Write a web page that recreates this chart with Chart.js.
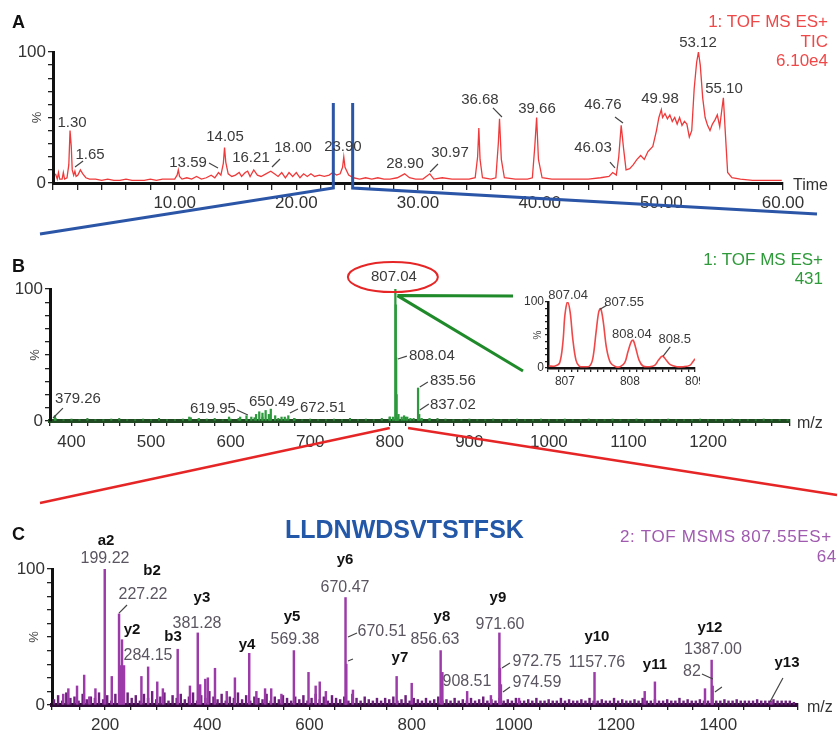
<!DOCTYPE html>
<html>
<head>
<meta charset="utf-8">
<script src="https://cdn.jsdelivr.net/npm/chart.js@4.4.0/dist/chart.umd.min.js"></script>
<style>
  body { margin: 0; background: #fff; width: 838px; height: 735px; position: relative; overflow: hidden;
         font-family: "Liberation Sans", Arial, Helvetica, sans-serif; }
  canvas { position: absolute; }
  .txt { position: absolute; white-space: nowrap; line-height: 1; }
  .panel { font-weight: bold; font-size: 18px; color: #111; left: 12px; }
</style>
</head>
<body>
<canvas id="chartA" width="838" height="240" style="left:0;top:0"></canvas>
<canvas id="chartB" width="838" height="270" style="left:0;top:240px"></canvas>
<div style="position:absolute;left:500px;top:280px;width:200px;height:110px;overflow:hidden">
  <canvas id="chartInset" width="240" height="110" style="left:0;top:0"></canvas>
</div>
<canvas id="chartC" width="838" height="265" style="left:0;top:470px"></canvas>

<div class="txt panel" style="top:13px">A</div>
<div class="txt panel" style="top:257px">B</div>
<div class="txt panel" style="top:525px">C</div>

<div class="txt" style="right:10px;top:12px;font-size:17px;color:#f04848;text-align:right;line-height:19.5px">1: TOF MS ES+<br>TIC<br>6.10e4</div>
<div class="txt" style="right:15px;top:250px;font-size:17px;color:#2f9a3a;text-align:right;line-height:19px">1: TOF MS ES+<br>431</div>
<div class="txt" style="right:6px;top:528px;font-size:17px;letter-spacing:0.7px;color:#a05ab0">2: TOF MSMS 807.55ES+</div>
<div class="txt" style="right:1px;top:548px;font-size:17px;letter-spacing:0.7px;color:#a05ab0">64</div>
<div class="txt" style="left:285px;top:517px;font-size:25px;font-weight:bold;color:#2358a8">LLDNWDSVTSTFSK</div>

<script>
"use strict";

// Panel A: total ion chromatogram (time in min, % intensity)
const ticTime = [0.2, 0.35, 0.45, 0.55, 0.75, 0.85, 0.95, 1.15, 1.3, 1.4, 1.5, 1.58, 1.7, 1.8, 1.9, 2.05, 2.25, 2.45, 2.7, 3.0,
  3.5, 4.0, 4.5, 5.0, 5.5, 6.0, 6.5, 7.0, 7.5, 8.0, 8.5, 9.0, 9.5, 10.0, 10.2, 10.3, 10.4, 10.6, 11.0, 11.4,
  11.8, 12.2, 12.6, 13.0, 13.3, 13.6, 13.8, 14.0, 14.1, 14.2, 14.4, 14.7, 15.0, 15.3, 15.5, 15.8, 16.0, 16.2, 16.5, 16.8,
  17.1, 17.5, 17.9, 18.2, 18.5, 18.8, 19.1, 19.4, 19.7, 20.0, 20.3, 20.6, 20.9, 21.2, 21.5, 21.9, 22.3, 22.7, 23.0, 23.3,
  23.6, 23.8, 23.9, 24.0, 24.3, 24.7, 25.2, 25.7, 26.2, 26.7, 27.2, 27.7, 28.3, 28.9, 29.3, 29.8, 30.4, 30.97, 31.3, 32.0,
  32.8, 33.5, 34.2, 34.7, 34.9, 35.0, 35.1, 35.3, 36.0, 36.4, 36.6, 36.7, 36.85, 37.1, 38.0, 39.0, 39.4, 39.6, 39.75, 39.9,
  40.2, 41.0, 42.0, 43.0, 44.0, 45.0, 45.7, 46.0, 46.3, 46.5, 46.7, 46.9, 47.1, 47.4, 47.7, 48.0, 48.3, 48.6, 48.9, 49.3,
  49.6, 49.8, 50.0, 50.1, 50.3, 50.5, 50.7, 50.9, 51.1, 51.3, 51.5, 51.7, 51.9, 52.1, 52.3, 52.5, 52.7, 52.9, 53.05, 53.2,
  53.4, 53.6, 53.8, 54.0, 54.2, 54.4, 54.6, 54.8, 55.0, 55.1, 55.25, 55.45, 55.8, 56.5, 57.5, 58.5, 59.5, 59.9];
const ticPct = [7, 3, 8, 3, 3, 8, 3, 4, 14, 40, 28, 10, 6, 9, 5, 6, 10, 7, 4, 3,
  3, 2, 3, 2, 2, 3, 2, 2, 2, 3, 2, 3, 3, 3, 6, 10, 5, 3, 4, 3,
  5, 3, 4, 6, 4, 8, 6, 15, 27, 16, 7, 5, 6, 8, 5, 8, 9, 5, 10, 6,
  5, 7, 9, 7, 5, 8, 4, 8, 5, 8, 4, 7, 5, 7, 5, 6, 5, 6, 8, 6,
  7, 12, 20, 12, 6, 4, 3, 4, 3, 4, 3, 3, 4, 7, 4, 3, 3, 7, 3, 4,
  3, 3, 3, 4, 20, 42, 18, 4, 3, 4, 30, 49, 18, 4, 3, 3, 4, 28, 50, 18,
  4, 3, 3, 3, 3, 4, 5, 8, 6, 20, 44, 26, 10, 11, 14, 18, 21, 18, 24, 28,
  40, 50, 56, 50, 53, 49, 52, 47, 50, 45, 50, 44, 47, 45, 35, 40, 72, 92, 100, 90,
  65, 50, 44, 40, 45, 48, 52, 43, 58, 65, 40, 8, 4, 3, 2, 2, 2, 2];
const zoomWindow = [23.04, 24.63];

const ticLabels = [["1.30", 1.56, 45.8], ["1.65", 3.04, 21.4], ["13.59", 11.1, 15.3], ["14.05", 14.14, 35.1],
  ["16.21", 16.27, 19.1], ["18.00", 19.73, 26.7], ["23.90", 23.83, 27.5], ["28.90", 28.93, 14.5],
  ["30.97", 32.63, 22.9], ["36.68", 35.09, 63.4], ["39.66", 39.78, 56.5], ["46.03", 44.38, 26.7],
  ["46.76", 45.2, 59.5], ["49.98", 49.89, 64.1], ["53.12", 53.01, 106.9], ["55.10", 55.15, 71.8]];
const ticLeaders = [[1.81, 12.2, 2.47, 16.8], [12.82, 15.3, 13.56, 11.5], [18.0, 12.2, 18.66, 18.3],
  [30.99, 8.4, 31.64, 14.5], [36.16, 57.3, 36.9, 50.4], [45.78, 16.0, 46.19, 11.5], [46.19, 50.4, 46.85, 45.8]];

// Panel B: MS survey scan
const msMz = [379.26, 548, 560, 598, 612, 619.95, 626, 632, 636, 640, 644, 648, 650.49, 656, 664, 668, 672.51, 680,
  800, 804, 807.04, 807.55, 808.04, 808.55, 811, 815, 818, 822, 826, 835.56, 837.02, 840, 850];
const msPct = [4, 3, 2, 3, 3, 4, 3, 5, 7, 6, 8, 5, 9, 4, 3, 3, 4, 2,
  3, 3, 100, 88, 48, 20, 5, 3, 4, 3, 2, 25, 5, 2, 2];
const msNoiseFrom = 380, msNoiseStep = 10;
const msNoisePct = [2, 1, 1.5, 1, 2, 1, 1, 1.5, 2, 1,
  1, 1.5, 1, 2, 1, 1, 1.5, 2.5, 1, 1.5,
  2, 1, 1.5, 2, 1, 2.5, 3, 2, 2, 1.5,
  2, 1, 1.5, 1, 1, 1.5, 1, 2, 1, 1.5,
  1, 2, 3, 2.5, 3, 2, 1.5, 1, 2, 1.5,
  1, 1, 1.5, 1, 1, 1.5, 1, 1, 1.5, 1,
  1, 1.5, 1, 1, 1.5, 1, 1, 1.5, 1, 1,
  1.5, 1, 1, 1.5, 1, 1, 1, 1.5, 1, 1,
  1, 1.5, 1, 1, 1, 1.5, 1, 1, 1, 1.5,
  1, 1, 1];
const msLabels = [["379.26", 408.2, 16.7], ["619.95", 577.8, 9.1], ["650.49", 651.9, 14.4], ["672.51", 716.0, 9.8],
  ["807.04", 805.2, 109], ["808.04", 852.9, 49.2], ["835.56", 879.3, 30.3], ["837.02", 879.3, 12.1]];
const msLeaders = [[376.8, 2.3, 389.3, 9.8], [607.9, 8.3, 621.7, 4.5], [674.5, 6.1, 684.6, 9.1],
  [810.2, 47.0, 821.5, 49.2], [837.8, 25.8, 847.9, 29.5], [837.8, 8.3, 849.1, 12.9]];

// Inset: isotope envelope of 807.04
const isoMz = [806.75, 806.85, 806.92, 806.97, 807.0, 807.04, 807.08, 807.12, 807.17, 807.22, 807.3, 807.38, 807.43,
  807.48, 807.52, 807.55, 807.59, 807.64, 807.7, 807.78, 807.85, 807.92, 807.97, 808.02, 808.05, 808.09, 808.14,
  808.2, 808.3, 808.38, 808.44, 808.5, 808.55, 808.62, 808.72, 808.82, 808.92, 808.97, 809.0];
const isoPct = [3, 3, 8, 40, 80, 100, 85, 45, 12, 3, 2, 3, 15,
  55, 85, 90, 70, 30, 8, 2, 2, 8, 25, 40, 42, 30, 12,
  3, 2, 4, 12, 18, 13, 5, 2, 2, 4, 10, 14];
const isoLabels = [["807.04", 807.05, 110], ["807.55", 807.91, 100], ["808.04", 808.03, 51.5], ["808.5", 808.69, 44]];
const isoLeaders = [[807.54, 89, 807.65, 95.5], [808.51, 18, 808.62, 32]];

// Panel C: MS/MS fragment spectrum of 807.55
const msmsMz = [118, 128, 145, 159, 169, 181, 199.22, 213, 227.22, 230, 233, 237, 271, 284.15, 302, 313, 342, 366,
  381.28, 386, 396, 401, 415, 438, 454, 482, 496, 513, 525, 545, 569.38, 598, 612, 620, 632, 670.47, 672, 685,
  770.5, 800, 856.63, 860, 908.51, 955, 971.6, 972.75, 974.59, 1010, 1157.76, 1256, 1276, 1374, 1387, 1389, 1504];
const msmsPct = [8, 12, 14, 22, 6, 12, 100, 21, 67, 29, 48, 29, 21, 28, 17, 12, 41, 14,
  53, 15, 19, 20, 27, 10, 20, 38, 10, 12, 12, 8, 40, 24, 14, 17, 10, 79, 30, 11,
  21, 16, 40, 24, 10, 7, 53, 27, 15, 5, 24, 10, 17, 12, 33, 14, 3];
const msmsNoiseFrom = 100, msmsNoiseStep = 8;
const msmsNoisePct = [4, 7, 3, 9, 5, 6, 3, 8, 4, 6,
  5, 9, 4, 7, 3, 8, 6, 4, 9, 5,
  7, 3, 8, 5, 10, 4, 6, 9, 3, 7,
  5, 8, 4, 6, 9, 3, 7, 5, 10, 6,
  4, 8, 3, 6, 5, 9, 4, 7, 3, 6,
  5, 4, 8, 3, 6, 4, 7, 5, 3, 6,
  4, 7, 3, 5, 8, 4, 6, 3, 7, 5,
  4, 6, 3, 8, 5, 3, 6, 4, 3, 5,
  3, 5, 4, 6, 3, 4, 7, 3, 5, 4,
  3, 5, 3, 4, 6, 3, 4, 3, 5, 3,
  4, 3, 5, 3, 4, 6, 3, 4, 3, 5,
  3, 4, 3, 5, 3, 3, 4, 3, 5, 3,
  3, 4, 3, 3, 5, 3, 4, 3, 3, 4,
  3, 5, 3, 3, 4, 3, 3, 5, 3, 4,
  3, 3, 4, 3, 5, 3, 3, 4, 3, 3,
  4, 3, 3, 5, 3, 4, 3, 3, 4, 3,
  3, 4, 3, 3, 4, 3, 3, 4, 3, 3,
  3, 3, 4, 3, 3, 3, 4, 3, 3, 3,
  3, 2];
const msmsLabels = [["199.22", 199.7, 107.4], ["227.22", 274.1, 80.9], ["284.15", 283.9, 36.0], ["381.28", 379.8, 59.6],
  ["569.38", 571.5, 47.8], ["670.47", 669.4, 86.0], ["670.51", 741.8, 53.7], ["856.63", 845.5, 47.8],
  ["908.51", 908.1, 16.9], ["971.60", 972.7, 58.8], ["972.75", 1045.1, 31.6], ["974.59", 1045.1, 16.2],
  ["1157.76", 1162.5, 30.9], ["1387.00", 1389.5, 40.4], ["82", 1348.4, 24.3]];
const ionLabels = [["a2", 201.7, 120.6], ["b2", 291.7, 98.5], ["y2", 252.6, 55.1], ["y3", 389.5, 78.7],
  ["b3", 332.8, 50.0], ["y4", 477.6, 44.1], ["y5", 565.7, 64.7], ["y6", 669.4, 106.6], ["y7", 777.0, 34.6],
  ["y8", 859.2, 64.7], ["y9", 968.8, 78.7], ["y10", 1162.5, 50.0], ["y11", 1276.0, 29.4], ["y12", 1383.6, 56.6],
  ["y13", 1534.4, 30.9]];
const msmsLeaders = [[227.1, 67.6, 242.8, 73.5], [675.3, 50.0, 692.9, 52.9], [675.3, 32.4, 685.0, 33.8],
  [976.6, 27.2, 992.3, 30.9], [978.6, 9.6, 992.3, 13.2], [1368.0, 22.8, 1389.5, 19.1],
  [1393.4, 9.6, 1407.1, 13.2], [1501.1, 2.2, 1526.5, 19.9]];

const FONT = '"Liberation Sans", Arial, Helvetica, sans-serif';
Chart.defaults.font.family = FONT;
Chart.defaults.animation = false;
Chart.defaults.events = [];
Chart.defaults.plugins.legend.display = false;
Chart.defaults.plugins.tooltip.enabled = false;

const pairs = (xs, ys) => xs.map((v, i) => ({ x: v, y: ys[i] }));
const noise = (from, step, ys) => ys.map((v, i) => ({ x: from + i * step, y: v }));

function makeScales(o) {
  const common = (tick) => ({
    grid: { drawOnChartArea: false, offset: false, tickLength: tick, color: "#222", tickColor: "#222", lineWidth: 1.3, tickWidth: 1.3 },
  });
  return {
    x: {
      type: "linear", min: o.xMin, max: o.xMax, offset: false, ...common(o.xTick),
      border: { color: o.xBorderColor || "#111", width: o.xBorder || o.border },
      ticks: { stepSize: o.xStep, autoSkip: false, maxRotation: 0, minRotation: 0, padding: o.xPad, color: "#333",
               font: { size: o.size }, callback: o.xLabel },
      afterFit: (s) => { s.height = o.xHeight; },
    },
    y: {
      type: "linear", min: 0, max: 100, ...common(o.yTick),
      border: { color: "#111", width: o.border },
      ticks: { stepSize: 10, autoSkip: false, padding: o.yPad, color: "#333", font: { size: o.size },
               callback: (v) => (v === 0 || v === 100 ? String(v) : "") },
      afterFit: (s) => { s.width = o.yWidth; },
    },
  };
}

function decor(cfg) {
  return {
    id: "decor",
    afterDraw(chart) {
      const { ctx, chartArea: a, scales } = chart;
      const px = (v) => scales.x.getPixelForValue(v);
      const py = (v) => scales.y.getPixelForValue(v);
      ctx.save();
      if (cfg.extra) cfg.extra(ctx, px, py, a);
      // rotated % sign at the middle of the y axis
      ctx.fillStyle = "#444";
      ctx.font = cfg.pctFont;
      ctx.textAlign = "center";
      ctx.textBaseline = "middle";
      ctx.save();
      ctx.translate(a.left - cfg.pctOffset, py(50));
      ctx.rotate(-Math.PI / 2);
      ctx.fillText("%", 0, 0);
      ctx.restore();
      // axis unit
      if (cfg.unit) {
        ctx.font = "16px " + FONT;
        ctx.fillStyle = "#333";
        ctx.textAlign = "left";
        ctx.fillText(cfg.unit, a.right + cfg.unitGap, a.bottom + 3);
      }
      // leader lines
      ctx.strokeStyle = "#444";
      ctx.lineWidth = 1.2;
      (cfg.leaders || []).forEach(([x1, y1, x2, y2]) => {
        ctx.beginPath();
        ctx.moveTo(px(x1), py(y1));
        ctx.lineTo(px(x2), py(y2));
        ctx.stroke();
      });
      // peak labels
      ctx.textAlign = "center";
      ctx.font = cfg.labelFont;
      ctx.fillStyle = cfg.labelColor;
      (cfg.labels || []).forEach(([t, x, y]) => ctx.fillText(t, px(x), py(y)));
      ctx.font = "bold 15px " + FONT;
      ctx.fillStyle = "#111";
      (cfg.ions || []).forEach(([t, x, y]) => ctx.fillText(t, px(x), py(y)));
      ctx.restore();
    },
  };
}

// ---- Panel A ----
new Chart(document.getElementById("chartA"), {
  type: "line",
  data: { datasets: [{ data: pairs(ticTime, ticPct), borderColor: "#ee3a3a", borderWidth: 1.3, pointRadius: 0, tension: 0 }] },
  options: {
    responsive: false,
    layout: { padding: { left: 0, right: 55, top: 52, bottom: 0 } },
    scales: makeScales({ xMin: 0, xMax: 60, xStep: 2, xHeight: 57, yWidth: 53, xTick: 7, yTick: 5, xPad: 3, yPad: 2,
      border: 3, size: 17, xLabel: (v) => (v > 0 && v % 10 === 0 ? v.toFixed(2) : "") }),
  },
  plugins: [decor({
    pctFont: "13px " + FONT, pctOffset: 16, unit: "Time", unitGap: 10,
    labels: ticLabels, leaders: ticLeaders, labelFont: "15px " + FONT, labelColor: "#3a3a3a",
    extra(ctx, px, py, a) {
      const x0 = px(zoomWindow[0]), x1 = px(zoomWindow[1]);
      const top = py(61), foot = a.bottom + 5;
      ctx.strokeStyle = "#2b55a6";
      ctx.lineWidth = 3;
      ctx.beginPath();
      ctx.moveTo(x0, top); ctx.lineTo(x0, foot); ctx.lineTo(40, 234);
      ctx.moveTo(x1, top); ctx.lineTo(x1, foot); ctx.lineTo(817, 214);
      ctx.stroke();
    },
  })],
});

// ---- Panel B ----
const barStyle = (data, color, w) => ({ data, backgroundColor: color, borderWidth: 0, barThickness: w, grouped: false });
new Chart(document.getElementById("chartB"), {
  type: "bar",
  data: { datasets: [
    barStyle(pairs(msMz, msPct), "#2c9a3c", 1.6),
    barStyle(noise(msNoiseFrom, msNoiseStep, msNoisePct), "#2f8a3a", 1.4),
  ] },
  options: {
    responsive: false,
    layout: { padding: { left: 0, right: 48, top: 49, bottom: 0 } },
    scales: makeScales({ xMin: 373, xMax: 1303, xStep: 20, xHeight: 89, yWidth: 50, xTick: 5, yTick: 5, xPad: 6, yPad: 2,
      border: 3, xBorder: 4, xBorderColor: "#1f4a22", size: 17,
      xLabel: (v) => (v % 100 === 0 ? String(v) : "") }),
  },
  plugins: [decor({
    pctFont: "13px " + FONT, pctOffset: 15, unit: "m/z", unitGap: 7,
    labels: msLabels, leaders: msLeaders, labelFont: "15px " + FONT, labelColor: "#3a3a3a",
    extra(ctx, px, py, a) {
      // red zoom lines towards panel C
      ctx.strokeStyle = "#e62626";
      ctx.lineWidth = 2.5;
      ctx.beginPath();
      ctx.moveTo(px(800), a.bottom + 7); ctx.lineTo(40, 263);
      ctx.moveTo(px(823), a.bottom + 7); ctx.lineTo(837, 255);
      ctx.stroke();
      // green lines to the inset
      ctx.strokeStyle = "#1f8a2a";
      ctx.lineWidth = 3;
      ctx.beginPath();
      ctx.moveTo(px(807.04) + 2, py(95)); ctx.lineTo(513, 56);
      ctx.moveTo(px(807.04) + 2, py(95)); ctx.lineTo(523, 131);
      ctx.stroke();
      // red ellipse around the precursor label
      ctx.strokeStyle = "#e62626";
      ctx.lineWidth = 2;
      ctx.beginPath();
      ctx.ellipse(px(803.9), py(109), 45, 15, 0, 0, Math.PI * 2);
      ctx.stroke();
    },
  })],
});

// ---- Inset ----
new Chart(document.getElementById("chartInset"), {
  type: "line",
  data: { datasets: [{ data: pairs(isoMz, isoPct), borderColor: "#f04848", borderWidth: 1.6, pointRadius: 0, tension: 0.35 }] },
  options: {
    responsive: false,
    layout: { padding: { left: 0, right: 45, top: 22, bottom: 0 } },
    scales: makeScales({ xMin: 806.74, xMax: 809, xStep: 0.1, xHeight: 22, yWidth: 48, xTick: 4, yTick: 3, xPad: 2, yPad: 1,
      border: 2.5, size: 12, xLabel: (v) => (Math.abs(v - Math.round(v)) < 1e-6 ? String(Math.round(v)) : "") }),
  },
  plugins: [decor({
    pctFont: "10px " + FONT, pctOffset: 10,
    labels: isoLabels, leaders: isoLeaders, labelFont: "13px " + FONT, labelColor: "#3a3a3a",
  })],
});

// ---- Panel C ----
new Chart(document.getElementById("chartC"), {
  type: "bar",
  data: { datasets: [
    barStyle(pairs(msmsMz, msmsPct), "#9b3aa8", 1.8),
    barStyle(noise(msmsNoiseFrom, msmsNoiseStep, msmsNoisePct), "#6d1f7c", 1.8),
  ] },
  options: {
    responsive: false,
    layout: { padding: { left: 0, right: 40, top: 99, bottom: 0 } },
    scales: makeScales({ xMin: 96, xMax: 1556, xStep: 50, xHeight: 30, yWidth: 52, xTick: 5, yTick: 5, xPad: 5, yPad: 2,
      border: 3, xBorder: 4, xBorderColor: "#2e0b36", size: 17,
      xLabel: (v) => (v % 200 === 0 ? String(v) : "") }),
  },
  plugins: [decor({
    pctFont: "13px " + FONT, pctOffset: 18, unit: "m/z", unitGap: 9,
    labels: msmsLabels, ions: ionLabels, leaders: msmsLeaders, labelFont: "16px " + FONT, labelColor: "#5a5560",
  })],
});
</script>
</body>
</html>
